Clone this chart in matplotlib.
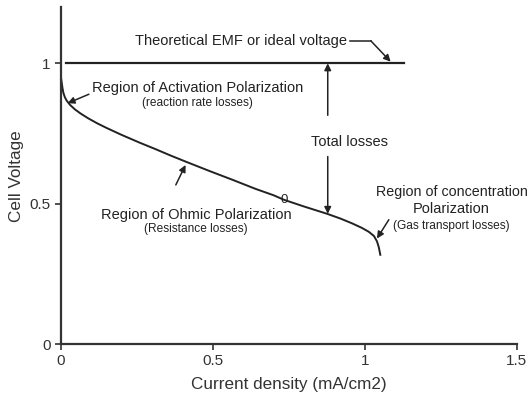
import matplotlib.pyplot as plt

plt.rcParams["font.family"] = ["Liberation Sans", "DejaVu Sans"]

# polarization curve
current = [0.0, 0.002, 0.005, 0.008, 0.013, 0.019, 0.03, 0.046, 0.065, 0.09, 0.12,
           0.15, 0.2, 0.26, 0.31, 0.36, 0.415, 0.49, 0.565, 0.64, 0.70,
           0.734, 0.8, 0.876, 0.92, 0.958, 0.99, 1.013, 1.03, 1.04, 1.046, 1.051]
voltage = [0.95, 0.935, 0.912, 0.895, 0.879, 0.867, 0.852, 0.836, 0.821, 0.804, 0.786,
           0.77, 0.745, 0.717, 0.695, 0.672, 0.648, 0.616, 0.585, 0.553, 0.53,
           0.514, 0.49, 0.464, 0.447, 0.43, 0.414, 0.4, 0.385, 0.366, 0.345, 0.318]

emf_x = [0.016, 1.13]
emf_y = [1.0, 1.0]

x_ticks = [0, 0.5, 1, 1.5]
x_tick_labels = ["0", "0.5", "1", "1.5"]
y_ticks = [0, 0.5, 1]
y_tick_labels = ["0", "0.5", "1"]

ink = "#222222"
big = 10.5
small = 8.6

fig = plt.figure(figsize=(5.3, 4.01), dpi=100)
ax = fig.add_axes([0.115, 0.142, 0.86, 0.84])
ax.plot(current, voltage, color=ink, lw=1.4, solid_joinstyle="round")
ax.plot(emf_x, emf_y, color=ink, lw=1.6)

ax.set_xlim(0, 1.5)
ax.set_ylim(0, 1.2)
ax.set_xticks(x_ticks, x_tick_labels)
ax.set_yticks(y_ticks, y_tick_labels)
ax.spines[["top", "right"]].set_visible(False)
for s in ["left", "bottom"]:
    ax.spines[s].set_linewidth(1.6)
    ax.spines[s].set_color("#333333")
ax.tick_params(labelsize=11, colors="#333333", length=4, width=1.2, direction="out")
ax.set_xlabel("Current density (mA/cm2)", fontsize=12.3, color="#333333", labelpad=6)
ax.set_ylabel("Cell Voltage", fontsize=12.3, color="#333333", labelpad=4)

arrow = dict(arrowstyle="-|>", color=ink, lw=1.1, mutation_scale=10, shrinkA=0, shrinkB=0)

# EMF label with bent leader
ax.text(0.592, 1.08, "Theoretical EMF or ideal voltage", fontsize=big, color=ink,
        ha="center", va="center")
ax.plot([0.95, 1.02], [1.08, 1.08], color=ink, lw=1.1)
ax.annotate("", xy=(1.085, 1.006), xytext=(1.02, 1.08), arrowprops=arrow)

# activation region
ax.text(0.45, 0.912, "Region of Activation Polarization", fontsize=big, color=ink,
        ha="center", va="center")
ax.text(0.45, 0.86, "(reaction rate losses)", fontsize=small, color=ink,
        ha="center", va="center")
ax.annotate("", xy=(0.022, 0.858), xytext=(0.092, 0.89), arrowprops=arrow)

# ohmic region
ax.text(0.445, 0.46, "Region of Ohmic Polarization", fontsize=big, color=ink,
        ha="center", va="center")
ax.text(0.445, 0.41, "(Resistance losses)", fontsize=small, color=ink,
        ha="center", va="center")
ax.annotate("", xy=(0.41, 0.638), xytext=(0.378, 0.567), arrowprops=arrow)
ax.text(0.734, 0.514, "0", fontsize=9.5, color=ink, ha="center", va="center")

# total losses
ax.text(0.948, 0.72, "Total losses", fontsize=big, color=ink, ha="center", va="center")
ax.annotate("", xy=(0.878, 1.0), xytext=(0.878, 0.815), arrowprops=arrow)
ax.annotate("", xy=(0.878, 0.464), xytext=(0.878, 0.668), arrowprops=arrow)

# concentration region
ax.text(1.288, 0.54, "Region of concentration", fontsize=10.3, color=ink,
        ha="center", va="center")
ax.text(1.285, 0.48, "Polarization", fontsize=big, color=ink, ha="center", va="center")
ax.text(1.285, 0.42, "(Gas transport losses)", fontsize=small, color=ink,
        ha="center", va="center")
ax.annotate("", xy=(1.04, 0.376), xytext=(1.079, 0.443), arrowprops=arrow)

plt.savefig("out.png", dpi=100)
